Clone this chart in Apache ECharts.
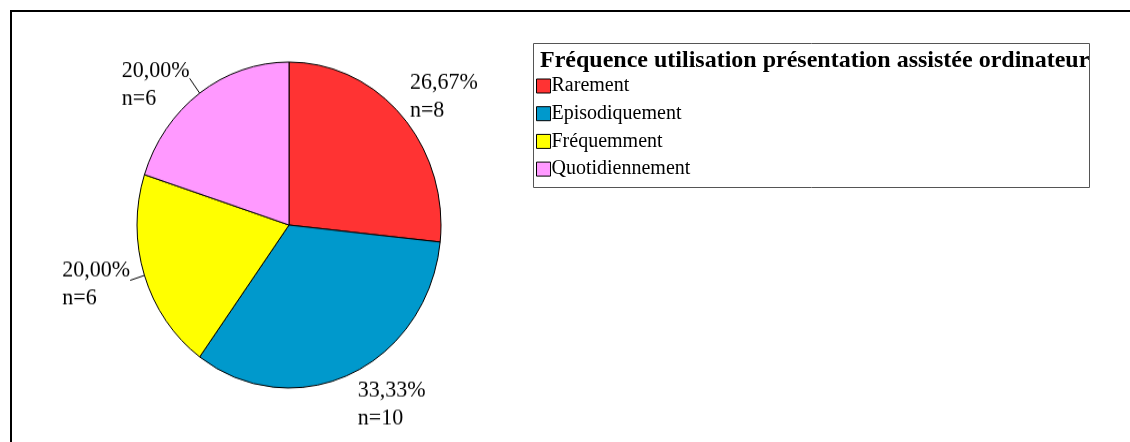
<!DOCTYPE html>
<html>
<head>
<meta charset="utf-8">
<script src="https://cdn.jsdelivr.net/npm/echarts@6/dist/echarts.min.js"></script>
<style>
html,body{margin:0;padding:0;background:#fff;overflow:hidden;}
#wrap{position:relative;width:1130px;height:442px;overflow:hidden;}
#pie{position:absolute;left:0;top:0;width:1130px;height:442px;transform:scaleY(1.0724);transform-origin:0 225px;}
#frame{position:absolute;left:0;top:0;width:1130px;height:442px;}
</style>
</head>
<body>
<div id="wrap"><div id="pie"></div><div id="frame"></div></div>
<script>
// ---- data ----
const categories = ['Rarement', 'Episodiquement', 'Fréquemment', 'Quotidiennement'];
const counts = [8, 10, 6, 6];
const legendTitle = 'Fréquence utilisation présentation assistée ordinateur';

// ---- style ----
const colors = ['#FF3333', '#0099CC', '#FFFF00', '#FF99FF'];
const labelVAlign = ['bottom', 'top', 'middle', 'middle'];
const leaderLen = [0, 0, 15, 17];
const showLeader = [false, false, true, true];
const labelDx = [8, 7, 0, 0];
const labelDy = [8, 2, 4, 6];
const serif = '"Liberation Serif", "Times New Roman", serif';

function buildData(withLabelStyle) {
  return categories.map((name, i) => ({
    name: name,
    value: counts[i],
    itemStyle: {color: colors[i]},
    labelLine: withLabelStyle ? {show: showLeader[i], length: leaderLen[i]} : {show: false}
  }));
}

// pie (drawn in its own layer, stretched vertically like the reference's ellipse)
const pieChart = echarts.init(document.getElementById('pie'), null, {renderer: 'canvas'});
pieChart.setOption({
  animation: false,
  series: [{
    type: 'pie',
    center: [289, 225],
    radius: 152,
    startAngle: 90,
    clockwise: true,
    avoidLabelOverlap: false,
    data: buildData(true),
    itemStyle: {borderColor: '#000', borderWidth: 1},
    emphasis: {disabled: true},
    label: {
      show: true,
      position: 'outside',
      distanceToLabelLine: 0,
      color: '#000',
      formatter: p => '{t|' + p.percent.toFixed(2).replace('.', ',') + '%}\n{t|n=' + p.value + '}',
      rich: {t: {align: 'left', fontFamily: serif, fontSize: 22, lineHeight: 26, color: '#000'}}
    },
    labelLine: {length2: 0, lineStyle: {color: '#000', width: 1}},
    labelLayout: p => ({verticalAlign: labelVAlign[p.dataIndex], dx: labelDx[p.dataIndex], dy: labelDy[p.dataIndex]})
  }]
});

// frame, legend and its title
const frameChart = echarts.init(document.getElementById('frame'), null, {renderer: 'canvas'});
frameChart.setOption({
  animation: false,
  graphic: [
    {type: 'line', shape: {x1: 10, y1: 11, x2: 1130, y2: 11}, style: {stroke: '#000', lineWidth: 2}},
    {type: 'line', shape: {x1: 11, y1: 10, x2: 11, y2: 442}, style: {stroke: '#000', lineWidth: 2}},
    {type: 'rect', shape: {x: 533.5, y: 43.5, width: 556, height: 144}, style: {fill: 'none', stroke: '#555', lineWidth: 1}},
    {type: 'text', left: 540, top: 49, style: {text: legendTitle, font: 'bold 24px ' + serif, fill: '#000'}}
  ],
  legend: {
    orient: 'vertical',
    left: 531,
    top: 71,
    itemWidth: 14,
    itemHeight: 14,
    itemGap: 7.7,
    icon: 'rect',
    selectedMode: false,
    itemStyle: {borderColor: '#000', borderWidth: 1},
    textStyle: {fontFamily: serif, fontSize: 20, color: '#000', padding: [0, 0, 0, -4]},
    data: categories
  },
  series: [{
    type: 'pie',
    center: [289, 225],
    radius: 0,
    silent: true,
    label: {show: false},
    itemStyle: {borderWidth: 0},
    data: buildData(false)
  }]
});
</script>
</body>
</html>
